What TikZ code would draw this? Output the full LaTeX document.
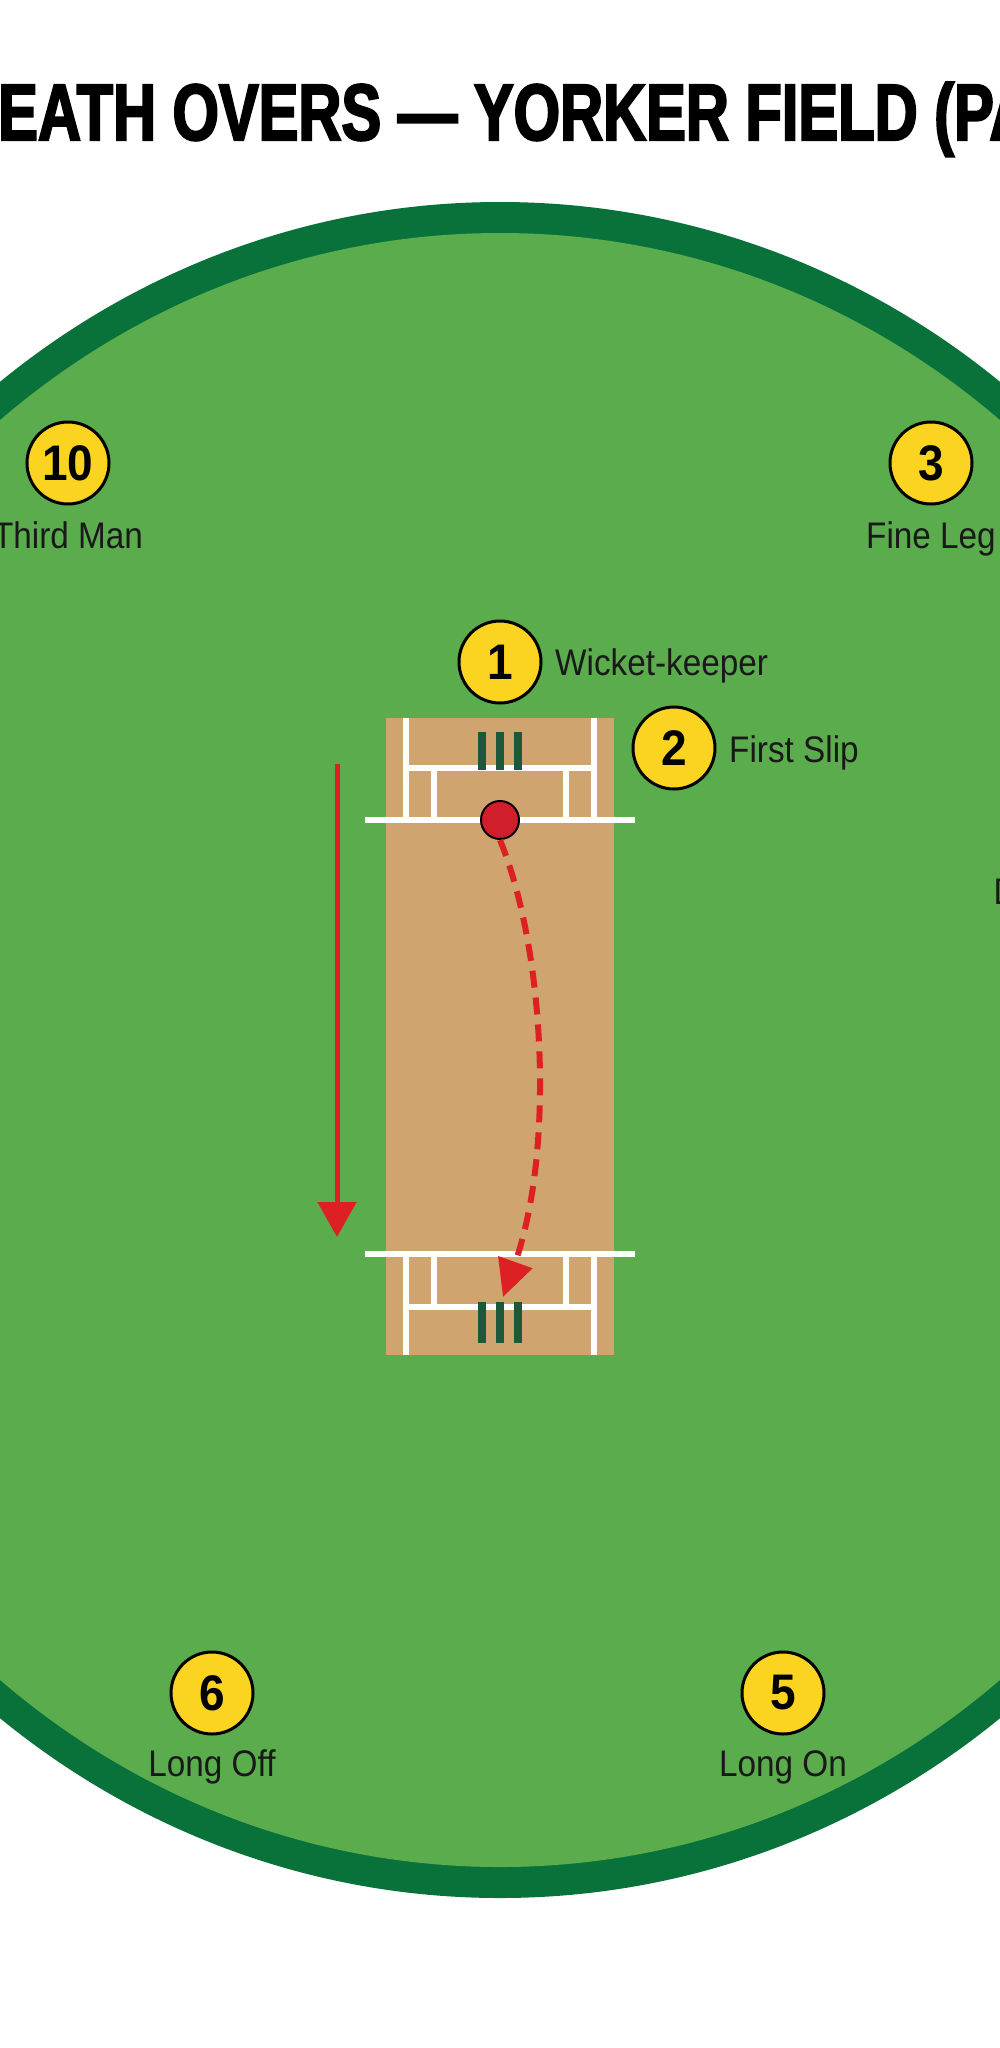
\documentclass[tikz,border=0pt]{standalone}
\usepackage{fontspec}
\setmainfont{Liberation Sans}
\newfontfamily\titlefont[FakeStretch=0.745,FakeBold=2.5]{Liberation Sans}
\newfontfamily\labelfont[FakeStretch=0.9]{Liberation Sans}
\newfontfamily\numfont[FakeStretch=0.92]{Liberation Sans}
\usetikzlibrary{arrows.meta}
\definecolor{boundary}{RGB}{8,114,58}
\definecolor{field}{RGB}{90,172,76}
\definecolor{pitchtan}{RGB}{208,164,110}
\definecolor{fieldyellow}{RGB}{250,212,32}
\definecolor{ballred}{RGB}{208,30,42}
\definecolor{arrowred}{RGB}{220,32,36}
\definecolor{stumpgreen}{RGB}{30,88,58}
\begin{document}
\begin{tikzpicture}[x=1pt,y=-1pt,
  crease/.style={draw=white,line width=5.5pt},
  stumpbar/.style={draw=stumpgreen,line width=7.5pt},
  fielder/.style={circle,fill=fieldyellow,draw=black,line width=3pt,minimum size=82pt,inner sep=0pt,
    font=\numfont\bfseries\fontsize{50pt}{50pt}\selectfont},
  lbl/.style={inner sep=0pt,font=\labelfont\fontsize{37pt}{40pt}\selectfont,text=black!90},
  ballnode/.style={circle,fill=ballred,draw=black,line width=2pt,minimum size=38pt,inner sep=0pt},
  yorker/.style={draw=arrowred,line width=6pt,dash pattern=on 17pt off 10pt,
    -{Triangle[length=37pt,width=35pt]}},
  runarrow/.style={draw=arrowred,line width=5pt,-{Triangle[length=35pt,width=38pt]}}
]
\useasboundingbox (0,0) rectangle (1000,2048);
\fill[white] (0,0) rectangle (1000,2048);

% title
\node[anchor=base west,inner sep=0pt,font=\titlefont\bfseries\fontsize{80pt}{96pt}\selectfont]
  (title) at (-45,140) {DEATH OVERS — YORKER FIELD (PA};

% ground
\fill[boundary] (500,1050) ellipse[x radius=812,y radius=848];
\fill[field] (500,1050) ellipse[x radius=785,y radius=817];

% pitch
\fill[pitchtan] (386,718) rectangle (614,1355);

% top end creases
\draw[crease] (365,820) -- (635,820);
\draw[crease] (406,718) -- (406,820);
\draw[crease] (594,718) -- (594,820);
\draw[crease] (406,768) -- (594,768);
\draw[crease] (434,768) -- (434,820);
\draw[crease] (566,768) -- (566,820);
% top stumps
\draw[stumpbar] (482,732) -- (482,770);
\draw[stumpbar] (500,732) -- (500,770);
\draw[stumpbar] (518,732) -- (518,770);

% bottom end creases
\draw[crease] (365,1254) -- (635,1254);
\draw[crease] (406,1254) -- (406,1355);
\draw[crease] (594,1254) -- (594,1355);
\draw[crease] (406,1307) -- (594,1307);
\draw[crease] (434,1254) -- (434,1307);
\draw[crease] (566,1254) -- (566,1307);
% bottom stumps
\draw[stumpbar] (482,1302) -- (482,1343);
\draw[stumpbar] (500,1302) -- (500,1343);
\draw[stumpbar] (518,1302) -- (518,1343);

% run direction arrow
\coordinate (runA) at (337,764);
\coordinate (runB) at (337,1237);
\draw[runarrow] (runA) -- (runB);

% ball and yorker path
\coordinate (yorkertip) at (503,1297);
\node[ballnode] (ball) at (500,820) {};
\draw[yorker] (ball.south) .. controls (545,950) and (555,1150) .. (yorkertip);

% fielders
\node[fielder] (f1) at (500,662) {1};
\node[lbl,anchor=base west] (l1) at (555,675) {Wicket-keeper};
\node[fielder] (f2) at (674,748) {2};
\node[lbl,anchor=base west] (l2) at (729,762) {First Slip};
\node[fielder] (f10) at (68,463) {10};
\node[lbl,anchor=base] (l10) at (68,548) {Third Man};
\node[fielder] (f3) at (931,463) {3};
\node[lbl,anchor=base] (l3) at (931,548) {Fine Leg};
\node[fielder] (f6) at (212,1693) {6};
\node[lbl,anchor=base] (l6) at (212,1776) {Long Off};
\node[fielder] (f5) at (783,1693) {5};
\node[lbl,anchor=base] (l5) at (783,1776) {Long On};
\node[lbl,anchor=base west] (l4) at (993.5,904) {Deep Square Leg};
\end{tikzpicture}
\end{document}
